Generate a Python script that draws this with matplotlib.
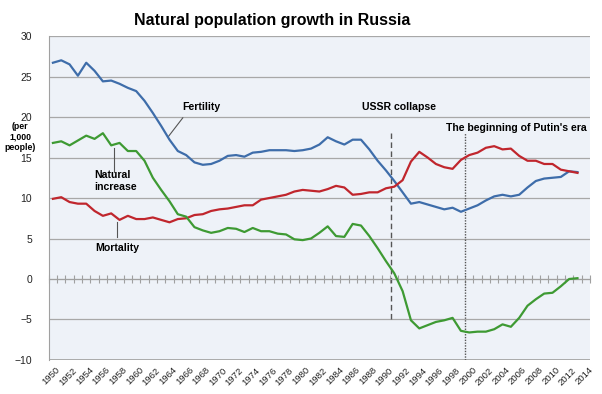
import numpy as np
import matplotlib
matplotlib.use("Agg")
import matplotlib.pyplot as plt

plt.rcParams['font.family'] = ['Liberation Sans', 'DejaVu Sans']

# data (per 1,000 people), 1950..2013
years = list(range(1950, 2014))
fertility = [26.7, 27.0, 26.5, 25.1, 26.7, 25.7, 24.4, 24.5, 24.1, 23.6,
             23.2, 22.0, 20.5, 18.9, 17.2, 15.8, 15.3, 14.4, 14.1, 14.2,
             14.6, 15.2, 15.3, 15.1, 15.6, 15.7, 15.9, 15.9, 15.9, 15.8,
             15.9, 16.1, 16.6, 17.5, 17.0, 16.6, 17.2, 17.2, 16.0, 14.6,
             13.4, 12.1, 10.7, 9.3, 9.5, 9.2, 8.9, 8.6, 8.8, 8.3,
             8.7, 9.1, 9.7, 10.2, 10.4, 10.2, 10.4, 11.3, 12.1, 12.4,
             12.5, 12.6, 13.3, 13.2]
mortality = [9.9, 10.1, 9.5, 9.3, 9.3, 8.4, 7.8, 8.1, 7.3, 7.8,
             7.4, 7.4, 7.6, 7.3, 7.0, 7.4, 7.5, 7.9, 8.0, 8.4,
             8.6, 8.7, 8.9, 9.1, 9.1, 9.8, 10.0, 10.2, 10.4, 10.8,
             11.0, 10.9, 10.8, 11.1, 11.5, 11.3, 10.4, 10.5, 10.7, 10.7,
             11.2, 11.4, 12.2, 14.5, 15.7, 15.0, 14.2, 13.8, 13.6, 14.7,
             15.3, 15.6, 16.2, 16.4, 16.0, 16.1, 15.2, 14.6, 14.6, 14.2,
             14.2, 13.5, 13.3, 13.1]
natural_increase = [16.8, 17.0, 16.5, 17.1, 17.7, 17.3, 18.0, 16.5, 16.8, 15.8,
                    15.8, 14.6, 12.5, 11.0, 9.6, 8.0, 7.7, 6.4, 6.0, 5.7,
                    5.9, 6.3, 6.2, 5.8, 6.3, 5.9, 5.9, 5.6, 5.5, 4.9,
                    4.8, 5.0, 5.7, 6.5, 5.3, 5.2, 6.8, 6.6, 5.3, 3.8,
                    2.2, 0.7, -1.5, -5.1, -6.1, -5.7, -5.3, -5.1, -4.8, -6.4,
                    -6.6, -6.5, -6.5, -6.2, -5.6, -5.9, -4.8, -3.3, -2.5, -1.8,
                    -1.7, -0.9, 0.0, 0.1]
axis_years = list(range(1950, 2015))
label_years = list(range(1950, 2015, 2))

fig = plt.figure(figsize=(6.02, 3.94), dpi=100)
ax = fig.add_axes([0.081, 0.0863, 0.899, 0.8223])
ax.set_facecolor('#EEF2F8')

x = np.arange(len(years))
ax.plot(x, fertility, color='#3E6DAA', lw=1.6, zorder=3)
ax.plot(x, mortality, color='#C0262D', lw=1.6, zorder=3)
ax.plot(x, natural_increase, color='#3E9A33', lw=1.6, zorder=3)

ax.set_xlim(-0.5, len(axis_years) - 0.5)
ax.set_ylim(-10, 30)
ax.set_yticks(range(-10, 31, 5))
ax.yaxis.grid(True, color='#A8A8A8', lw=0.9)
ax.set_axisbelow(True)
for s in ['top', 'right']:
    ax.spines[s].set_visible(False)
ax.spines['left'].set_color('#A0A0A0')
ax.spines['bottom'].set_color('#A0A0A0')
ax.tick_params(axis='y', length=0, pad=12, labelsize=7.5, labelcolor='#222222')

# category axis crosses at zero with tick marks at category boundaries
ax.spines['bottom'].set_position(('data', 0))
ax.set_xticks(np.arange(len(axis_years) + 1) - 0.5)
ax.tick_params(axis='x', direction='inout', length=6, color='#A0A0A0', labelbottom=False)
ax.axhline(-10, color='#A0A0A0', lw=1.2, zorder=1)

# year labels at bottom
for yr in label_years:
    i = axis_years.index(yr)
    ax.annotate(str(yr), xy=(i, -10), xytext=(2, -4), textcoords='offset points',
                rotation=45, ha='right', va='top', fontsize=6.8, color='#222222',
                rotation_mode='anchor', annotation_clip=False)

# event lines
ax.vlines(40.6, -5, 18, colors='#555555', linestyles=(0, (4, 2.5)), lw=1.0, zorder=2)
ax.vlines(49.5, -10, 18, colors='#555555', linestyles=(0, (1, 1)), lw=1.0, zorder=2)

bold = dict(fontsize=7.6, fontweight='bold', color='black')
ax.text(15.5, 21.2, 'Fertility', va='center', ha='left', **bold)
ax.plot([15.6, 13.8], [19.9, 17.5], color='#555555', lw=0.8)
ax.text(5.0, 12.1, 'Natural\nincrease', va='center', ha='left', linespacing=1.15, **bold)
ax.plot([7.3, 7.3], [16.2, 13.2], color='#555555', lw=0.8)
ax.text(5.1, 3.8, 'Mortality', va='center', ha='left', **bold)
ax.plot([7.7, 7.7], [7.0, 5.2], color='#555555', lw=0.8)
ax.text(37.1, 21.2, 'USSR collapse', va='center', ha='left', **bold)
ax.text(47.2, 18.6, "The beginning of Putin's era", va='center', ha='left', **bold)

fig.text(20 / 602, 1 - 137 / 394, '(per\n1,000\npeople)', ha='center', va='center',
         fontsize=6.3, fontweight='bold', linespacing=1.2)
fig.text(272 / 602, 1 - 20 / 394, 'Natural population growth in Russia',
         ha='center', va='center', fontsize=11.5, fontweight='bold')

fig.savefig('out.png', dpi=100)
